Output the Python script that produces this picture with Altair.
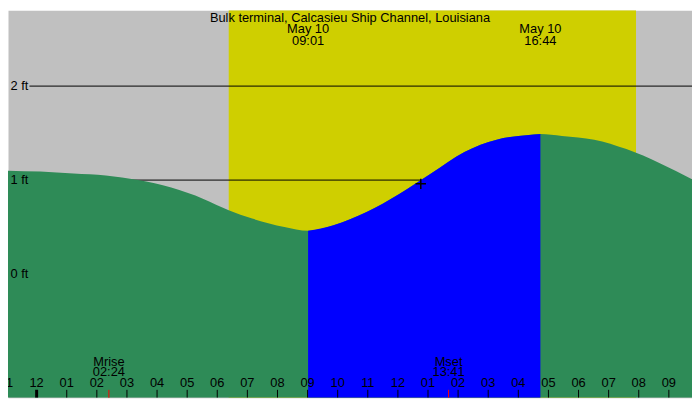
import pandas as pd
import altair as alt

alt.data_transformers.disable_max_rows()

# tide curve: hours after midnight of May 10, height in feet
tide_hours = [-0.95, 0.12, 1.22, 2.30, 3.37, 4.47, 5.54, 6.38, 7.16, 8.23, 9.017,
              9.86, 10.96, 12.03, 13.10, 14.21, 15.28, 16.35, 16.733, 17.45, 18.52,
              19.59, 20.70, 21.77]
tide_feet = [1.10, 1.09, 1.07, 1.05, 1.00, 0.92, 0.80, 0.68, 0.59, 0.50, 0.46,
             0.52, 0.66, 0.85, 1.07, 1.30, 1.43, 1.48, 1.49, 1.47, 1.43,
             1.33, 1.18, 1.01]

# low and high water
event_hours = [9.017, 16.733]
event_dates = ['May 10', 'May 10']
event_clock = ['09:01', '16:44']

# sunrise / sunset
sun_hours = [6.38, 19.91]

# moonrise / moonset
moon_hours = [2.40, 13.683]
moon_names = ['Mrise', 'Mset']
moon_clock = ['02:24', '13:41']

# "now" marker
mark_hour = [12.76]
mark_feet = [0.96]

levels = [0, 1, 2]
level_labels = ['0 ft', '1 ft', '2 ft']

hour_ticks = list(range(-1, 22))
hour_labels = ['11', '12', '01', '02', '03', '04', '05', '06', '07', '08', '09', '10',
               '11', '12', '01', '02', '03', '04', '05', '06', '07', '08', '09']

title_text = 'Bulk terminal, Calcasieu Ship Channel, Louisiana'

W, H = 692, 392
FONT = 'Liberation Sans'
FS = 13

tide = pd.DataFrame({'hour': tide_hours, 'feet': tide_feet})
events = pd.DataFrame({'hour': event_hours, 'date': event_dates, 'clock': event_clock})
sun = pd.DataFrame({'rise': [sun_hours[0]], 'set': [sun_hours[1]]})
moon = pd.DataFrame({'hour': moon_hours, 'name': moon_names, 'clock': moon_clock})
now = pd.DataFrame({'hour': mark_hour, 'feet': mark_feet})
lev = pd.DataFrame({'level': levels, 'label': level_labels})
ticks = pd.DataFrame({'hour': hour_ticks, 'label': hour_labels})

xs = alt.Scale(domain=[-0.951, 21.769], nice=False, zero=False)
ys = alt.Scale(domain=[-1.316, 2.807], nice=False, zero=False)

daylight = alt.Chart(sun).mark_rect(color='#cfcf00', clip=True).encode(
    x=alt.X('rise:Q', scale=xs, axis=None), x2='set:Q',
    y=alt.value(0), y2=alt.value(H))

level_lines = alt.Chart(lev).mark_rule(color='black', strokeWidth=1, clip=True).encode(
    x=alt.value(21.7), x2=alt.value(W),
    y=alt.Y('level:Q', scale=ys, axis=None))

water = alt.Chart(tide).mark_area(interpolate='monotone', color='#2e8b57', clip=True).encode(
    x=alt.X('hour:Q', scale=xs, axis=None),
    y=alt.Y('feet:Q', scale=ys, axis=None, stack=False), y2=alt.value(H))

rising = alt.Chart(tide).mark_area(interpolate='monotone', color='#0000ff', clip=True).encode(
    x=alt.X('hour:Q', scale=xs, axis=None),
    y=alt.Y('feet:Q', scale=ys, axis=None, stack=False), y2=alt.value(H)).transform_filter(
    (alt.datum.hour >= event_hours[0] - 0.001) & (alt.datum.hour <= event_hours[1] + 0.001))

cross = alt.Chart(now).mark_point(shape='M-1,0H1M0,-1V1', size=110, filled=False,
                                  color='black', strokeWidth=1.5, opacity=1).encode(
    x=alt.X('hour:Q', scale=xs, axis=None),
    y=alt.Y('feet:Q', scale=ys, axis=None))

level_text = alt.Chart(lev).mark_text(font=FONT, fontSize=FS, color='black', align='left', baseline='middle').encode(
    x=alt.value(2.5), y=alt.Y('level:Q', scale=ys, axis=None), text='label:N')

title = alt.Chart(pd.DataFrame({'t': [title_text]})).mark_text(
    font=FONT, fontSize=FS, color='black', align='center', baseline='alphabetic').encode(
    x=alt.value(W / 2), y=alt.value(11.5), text='t:N')

event_date = alt.Chart(events).mark_text(font=FONT, fontSize=FS, color='black', baseline='alphabetic').encode(
    x=alt.X('hour:Q', scale=xs, axis=None), y=alt.value(23.5), text='date:N')
event_time = alt.Chart(events).mark_text(font=FONT, fontSize=FS, color='black', baseline='alphabetic').encode(
    x=alt.X('hour:Q', scale=xs, axis=None), y=alt.value(35), text='clock:N')

moon_name = alt.Chart(moon).mark_text(font=FONT, fontSize=FS, color='black', baseline='alphabetic').encode(
    x=alt.X('hour:Q', scale=xs, axis=None), y=alt.value(359.4), text='name:N')
moon_time = alt.Chart(moon).mark_text(font=FONT, fontSize=FS, color='black', baseline='alphabetic').encode(
    x=alt.X('hour:Q', scale=xs, axis=None), y=alt.value(369.8), text='clock:N')
moon_ticks = alt.Chart(moon).mark_rule(color='#ff0000', strokeWidth=1).encode(
    x=alt.X('hour:Q', scale=xs, axis=None), y=alt.value(384), y2=alt.value(H))

hour_text = alt.Chart(ticks).mark_text(font=FONT, fontSize=FS, color='black', baseline='alphabetic', clip=True).encode(
    x=alt.X('hour:Q', scale=xs, axis=None), y=alt.value(381.5), text='label:N')
hour_marks = alt.Chart(ticks).mark_rule(color='black', clip=True).encode(
    x=alt.X('hour:Q', scale=xs, axis=None), y=alt.value(384), y2=alt.value(H),
    strokeWidth=alt.when(alt.datum.hour == 0).then(alt.value(3)).otherwise(alt.value(1)))

chart = alt.layer(
    daylight, level_lines, water, rising, cross, level_text, title,
    event_date, event_time, moon_name, moon_time, moon_ticks, hour_text, hour_marks
).properties(width=W, height=H, padding=0, autosize='none').configure_view(
    fill='#c0c0c0', strokeOpacity=0)

chart.save("out.html", embed_options={"renderer": "svg", "actions": False})
